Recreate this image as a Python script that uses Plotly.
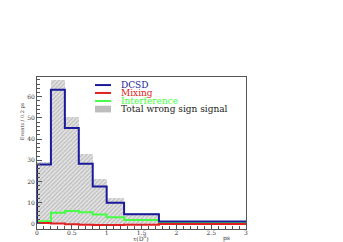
import numpy as np
import plotly.graph_objects as go

# Bin edges (ps) and contents (Events / 0.2 ps)
edges = [0.0, 0.2, 0.4, 0.6, 0.8, 1.0, 1.25, 1.75, 3.0]
total_ws = [29.0, 68.0, 50.5, 33.0, 21.0, 12.4, 5.2, 1.3]
dcsd = [28.0, 63.3, 45.2, 28.4, 17.6, 10.0, 4.6, 1.1]
interference = [1.2, 5.3, 6.1, 5.5, 4.4, 3.2, 1.8, 0.6]
mixing = [0.4, 0.2, -0.2, -0.4, -0.5, -0.5, -0.4, 0.0]

series_names = ["DCSD", "Mixing", "Interference", "Total wrong sign signal"]
series_colors = ["#1a1a9a", "#e02020", "#44ff44", "#222222"]

x_ticks = [0, 0.5, 1, 1.5, 2, 2.5, 3]
x_tick_text = ["0", "0.5", "1", "1.5", "2", "2.5", "3"]
y_ticks = [0, 10, 20, 30, 40, 50, 60]

e = np.array(edges)
centers = (e[:-1] + e[1:]) / 2
widths = np.diff(e)


def step(vals):
    xs = [edges[0]] + list(edges)
    ys = [0.0] + list(vals) + [vals[-1]]
    return xs, ys


SERIF = "DejaVu Serif, serif"
fig = go.Figure()

fig.add_trace(go.Bar(
    x=centers, y=total_ws, width=widths,
    name=series_names[3], showlegend=False,
    marker=dict(color="#dcdcdc", line=dict(width=0),
                pattern=dict(shape="/", fgcolor="#9a9a9a", bgcolor="#e4e4e4",
                             size=3, solidity=0.45)),
))

for vals, name, col in [
    (interference, series_names[2], series_colors[2]),
    (mixing, series_names[1], series_colors[1]),
    (dcsd, series_names[0], series_colors[0]),
]:
    xs, ys = step(vals)
    fig.add_trace(go.Scatter(
        x=xs, y=ys, mode="lines", line=dict(shape="hv", color=col, width=2),
        name=name, showlegend=False,
    ))

axis_common = dict(
    showline=True, linecolor="#555", linewidth=1, mirror=True, automargin=False,
    ticks="inside", ticklen=5, tickcolor="#555", showgrid=False, zeroline=False,
    tickfont=dict(family=SERIF, size=6, color="#333"),
)

# manual legend (paper coordinates of the plot frame)
row_y = [0.947, 0.895, 0.842, 0.789]
shapes = []
annotations = []
for i, (name, col) in enumerate(zip(series_names, series_colors)):
    if i < 3:
        shapes.append(dict(type="line", xref="paper", yref="paper",
                           x0=0.2775, x1=0.354, y0=row_y[i], y1=row_y[i],
                           line=dict(color=col, width=2)))
    else:
        shapes.append(dict(type="rect", xref="paper", yref="paper",
                           x0=0.2775, x1=0.354, y0=row_y[i] - 0.022, y1=row_y[i] + 0.022,
                           fillcolor="#bdbdbd", line=dict(width=0)))
    annotations.append(dict(text=name, xref="paper", yref="paper",
                            x=0.392, y=row_y[i], xanchor="left", yanchor="middle",
                            showarrow=False,
                            font=dict(family=SERIF, size=9, color=col)))

annotations += [
    dict(text="Events / 0.2 ps", xref="paper", yref="paper",
         x=-0.096, y=0.85, textangle=-90, showarrow=False,
         font=dict(family=SERIF, size=5, color="#444")),
    dict(text="τ(D<sup>0</sup>)", xref="paper", yref="paper",
         x=0.498, y=-0.056, yanchor="middle", showarrow=False,
         font=dict(family=SERIF, size=6, color="#333")),
    dict(text="ps", xref="paper", yref="paper",
         x=0.933, y=-0.058, yanchor="middle", showarrow=False,
         font=dict(family=SERIF, size=6, color="#333")),
]

fig.update_layout(
    width=343, height=242,
    margin=dict(l=29, r=105, t=69, b=21, autoexpand=False),
    paper_bgcolor="white", plot_bgcolor="white",
    bargap=0, showlegend=False,
    xaxis=dict(range=[0, 3], tickvals=x_ticks, ticktext=x_tick_text,
               ticklabelstandoff=-2,
               minor=dict(ticks="inside", ticklen=3, dtick=0.1, tickcolor="#555"),
               **axis_common),
    yaxis=dict(range=[-2.4, 69.3], tickvals=y_ticks,
               minor=dict(ticks="inside", ticklen=3, dtick=2, tickcolor="#555"),
               **axis_common),
    shapes=shapes,
    annotations=annotations,
)

fig.write_html("out.html")
